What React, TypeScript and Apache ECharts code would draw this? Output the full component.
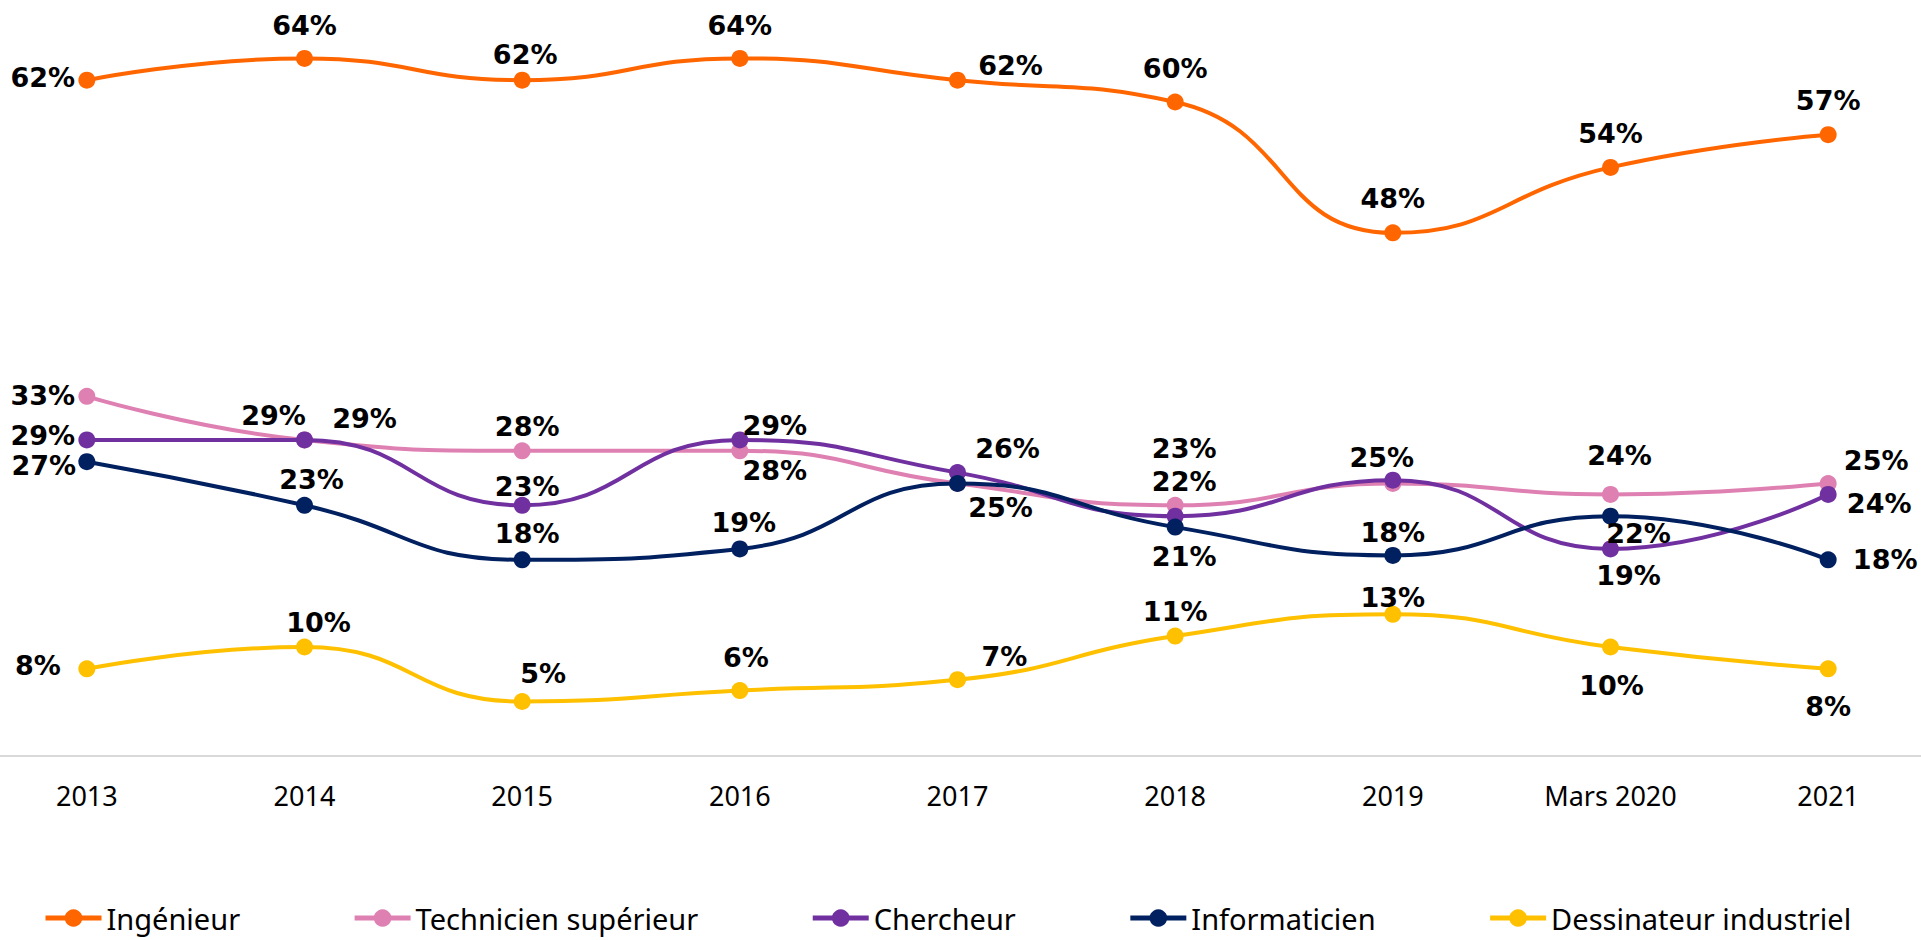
import React, { useEffect, useRef } from "react";
import * as echarts from "echarts";

const categories = ["2013", "2014", "2015", "2016", "2017", "2018", "2019", "Mars 2020", "2021"];
const seriesNames = ["Ingénieur", "Technicien supérieur", "Chercheur", "Informaticien", "Dessinateur industriel"];
const ingenieur = [62, 64, 62, 64, 62, 60, 48, 54, 57];
const technicien = [33, 29, 28, 28, 25, 23, 25, 24, 25];
const chercheur = [29, 29, 23, 29, 26, 22, 25.3, 19, 24];
const informaticien = [27, 23, 18, 19, 25, 21, 18.4, 22, 18];
const dessinateur = [8, 10, 5, 6, 7, 11, 13, 10, 8];

const colors = ["#FF6600", "#DF80B3", "#7030A0", "#002060", "#FFC000"];

// label offsets [dx, dy] from the marker centre; null = label not shown
type Off = [number, number] | null;
const labelOffsets: Off[][] = [
  [[-44, -3], [0, -33], [3, -26], [0, -33], [53, -15], [0, -34], [0, -34], [0, -34], [0, -34]],
  [[-44, -1], [-31, -24], [5, -24], [35, 20], null, [9, -57], null, [9, -39], [48, -23]],
  [[-44, -4], [60, -21], [5, -19], [35, -14], [50, -24], [9, -35], [-11, -23], [18, 27], [51, 9]],
  [[-43, 4], [7, -26], [5, -26], [4, -26], [43, 24], [9, 29], [0, -23], [28, 17], [57, 0]],
  [[-49, -3], [14, -25], [21, -28], [6, -33], [47, -23], [0, -25], [0, -17], [1, 38], [0, 38]],
];

const allValues = [ingenieur, technicien, chercheur, informaticien, dessinateur];

export default function App() {
  const ref = useRef<HTMLDivElement>(null);
  useEffect(() => {
    const chart = echarts.init(ref.current!, null, { renderer: "svg" });
    const series = allValues.map((vals, si) => ({
      name: seriesNames[si],
      type: "line",
      smooth: 0.5,
      symbol: "circle",
      symbolSize: 17,
      lineStyle: { color: colors[si], width: 4 },
      itemStyle: { color: colors[si] },
      emphasis: { disabled: true },
      z: 2 + si,
      data: vals.map((v, i) => {
        const off = labelOffsets[si][i];
        return {
          value: v,
          label: off ? { show: true, position: "inside", offset: off } : { show: false },
        };
      }),
      label: {
        show: true,
        position: "inside",
        formatter: (p: any) => Math.round(p.value) + "%",
        fontFamily: "DejaVu Sans",
        fontWeight: "bold",
        fontSize: 27,
        color: "#000",
      },
    }));
    chart.setOption({
      animation: false,
      backgroundColor: "#ffffff",
      grid: { left: 0, right: 0, top: 0, bottom: 191, containLabel: false },
      xAxis: {
        type: "category",
        data: categories,
        boundaryGap: true,
        axisLine: { show: true, lineStyle: { color: "#d9d9d9", width: 2 } },
        axisTick: { show: false },
        axisLabel: {
          margin: 26,
          fontFamily: "Noto Sans",
          fontSize: 27,
          color: "#000",
          interval: 0,
        },
        splitLine: { show: false },
      },
      yAxis: {
        type: "value",
        min: 0,
        max: 70,
        show: false,
        splitLine: { show: false },
      },
      legend: {
        data: seriesNames,
        left: 60,
        top: 904,
        itemWidth: 56,
        itemHeight: 22,
        itemGap: 112,
        lineStyle: { width: 5 },
        textStyle: { fontFamily: "Noto Sans", fontSize: 29, color: "#000", lineHeight: 32 },
      },
      series,
    });
    return () => chart.dispose();
  }, []);
  return (
    <div
      style={{
        position: "fixed",
        left: 0,
        top: 0,
        width: 1921,
        height: 940,
        overflow: "hidden",
        background: "#fff",
      }}
    >
      <div
        ref={ref}
        style={{ position: "absolute", left: -22, top: -7, width: 1959, height: 954 }}
      />
    </div>
  );
}
